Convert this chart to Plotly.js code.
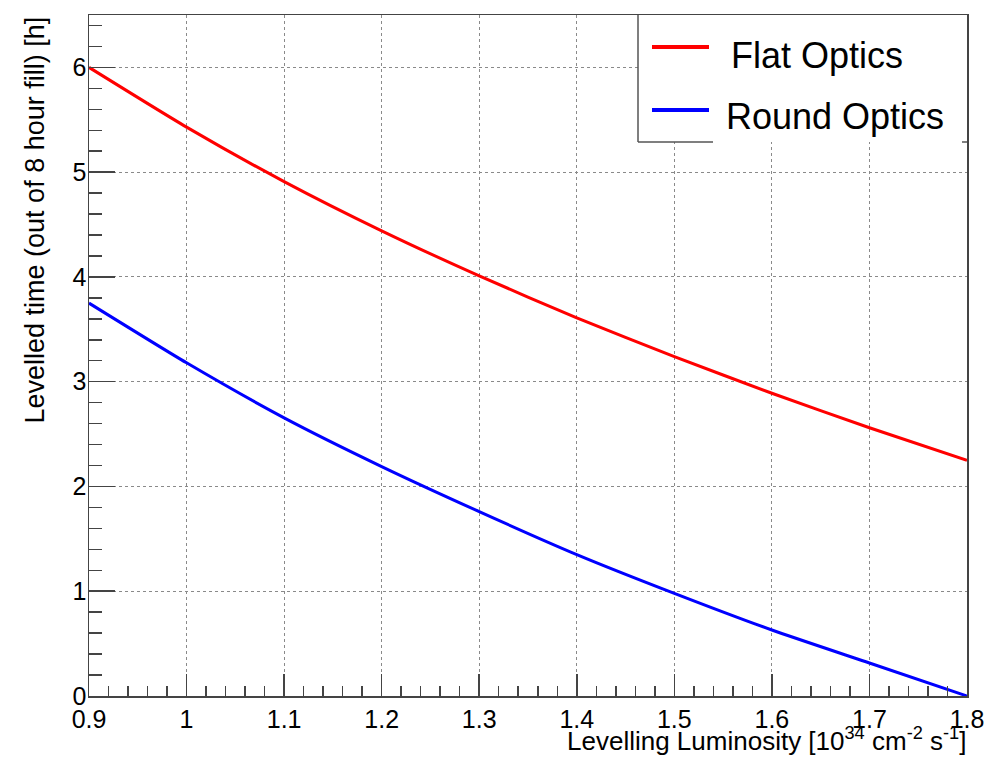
<!DOCTYPE html>
<html>
<head>
<meta charset="utf-8">
<script src="https://cdn.plot.ly/plotly-3.0.1.min.js"></script>
<style>html,body{margin:0;padding:0;background:#fff;}#chart{width:988px;height:757px;}</style>
</head>
<body>
<div id="chart"></div>
<script>
// Data
const luminosity = [0.9, 1.0, 1.1, 1.2, 1.3, 1.4, 1.5, 1.6, 1.7, 1.8];
const flatOptics = [6.0, 5.43, 4.91, 4.44, 4.01, 3.61, 3.24, 2.89, 2.56, 2.25];
const roundOptics = [3.75, 3.18, 2.655, 2.19, 1.76, 1.35, 0.98, 0.63, 0.315, 0.0];
const seriesNames = ["Flat Optics", "Round Optics"];
const seriesColors = ["#ff0000", "#0000ff"];
const xTitle = "Levelling Luminosity [10<sup>34</sup> cm<sup>-2</sup> s<sup>-1</sup>]";
const yTitle = "Levelled time (out of 8 hour fill) [h]";

const FONT = '"Liberation Sans", Arial, Helvetica, sans-serif';
const W = 988, H = 757;
const L = 89, R = 21, T = 15, B = 61;
const pw = W - L - R, ph = H - T - B;
const px = x => (x - L) / pw;          // pixel -> paper x
const py = y => (H - B - y) / ph;      // pixel -> paper y

const traces = [flatOptics, roundOptics].map((ys, i) => ({
  x: luminosity, y: ys, type: 'scatter', mode: 'lines',
  name: seriesNames[i], showlegend: false,
  line: {color: seriesColors[i], width: 3, shape: 'spline', smoothing: 0.6}
}));

// Manual ROOT-style legend
const legLeft = 638, legBottom = 142, legTop = 15;
const shapes = [
  {type:'rect', xref:'paper', yref:'paper', x0:px(legLeft), x1:1, y0:py(legBottom), y1:py(legTop), fillcolor:'#ffffff', line:{width:0}, layer:'above'},
  {type:'line', xref:'paper', yref:'paper', x0:px(legLeft), x1:px(legLeft), y0:py(legBottom), y1:1, line:{color:'#555', width:1.5}, layer:'above'},
  {type:'line', xref:'paper', yref:'paper', x0:px(legLeft), x1:px(713), y0:py(legBottom), y1:py(legBottom), line:{color:'#555', width:1.5}, layer:'above'},
  {type:'line', xref:'paper', yref:'paper', x0:px(962), x1:1, y0:py(legBottom), y1:py(legBottom), line:{color:'#555', width:1.5}, layer:'above'}
];
const legLineY = [47, 110];
const legTextY = [55, 116];
const legTextX = [729, 724];
const annotations = [];
seriesNames.forEach((n, i) => {
  shapes.push({type:'line', xref:'paper', yref:'paper', x0:px(652), x1:px(709), y0:py(legLineY[i]), y1:py(legLineY[i]), line:{color:seriesColors[i], width:4}, layer:'above'});
  annotations.push({xref:'paper', yref:'paper', x:px(legTextX[i]), y:py(legTextY[i]), xanchor:'left', yanchor:'middle', text:n, showarrow:false, font:{family:FONT, size:36, color:'#000'}});
});
annotations.push({xref:'paper', yref:'paper', x:1, y:py(757), xanchor:'right', yanchor:'bottom', text:xTitle, showarrow:false, borderpad:0, font:{family:FONT, size:26, color:'#000'}});
annotations.push({xref:'paper', yref:'paper', x:px(34), y:1, xanchor:'center', yanchor:'top', textangle:-90, text:yTitle, showarrow:false, font:{family:FONT, size:27, color:'#000'}});

const layout = {
  width: W, height: H,
  margin: {l: L, r: R, t: T, b: B, pad: 0},
  paper_bgcolor: '#fff', plot_bgcolor: '#fff',
  font: {family: FONT, size: 25, color: '#000'},
  showlegend: false,
  xaxis: {
    range: [0.9, 1.8], dtick: 0.1, tick0: 0.9,
    ticks: 'inside', ticklen: 22, tickwidth: 1.5, tickcolor: '#444',
    minor: {dtick: 0.02, tick0: 0.9, ticks: 'inside', ticklen: 10, tickwidth: 1.5, tickcolor: '#444', showgrid: false},
    showgrid: true, gridcolor: '#8a8a8a', griddash: 'dot', gridwidth: 1,
    showline: true, linecolor: '#444', linewidth: 1.5, mirror: true,
    zeroline: false, tickfont: {family: FONT, size: 25, color: '#000'}
  },
  yaxis: {
    range: [0, 6.5], dtick: 1, tick0: 0,
    ticks: 'inside', ticklen: 26, tickwidth: 1.5, tickcolor: '#444',
    minor: {dtick: 0.2, tick0: 0, ticks: 'inside', ticklen: 13, tickwidth: 1.5, tickcolor: '#444', showgrid: false},
    showgrid: true, gridcolor: '#8a8a8a', griddash: 'dot', gridwidth: 1,
    showline: true, linecolor: '#444', linewidth: 1.5, mirror: true,
    ticklabelstandoff: -4,
    zeroline: false, tickfont: {family: FONT, size: 25, color: '#000'}
  },
  shapes: shapes,
  annotations: annotations
};

Plotly.newPlot('chart', traces, layout, {displayModeBar: false, staticPlot: true});
</script>
</body>
</html>
